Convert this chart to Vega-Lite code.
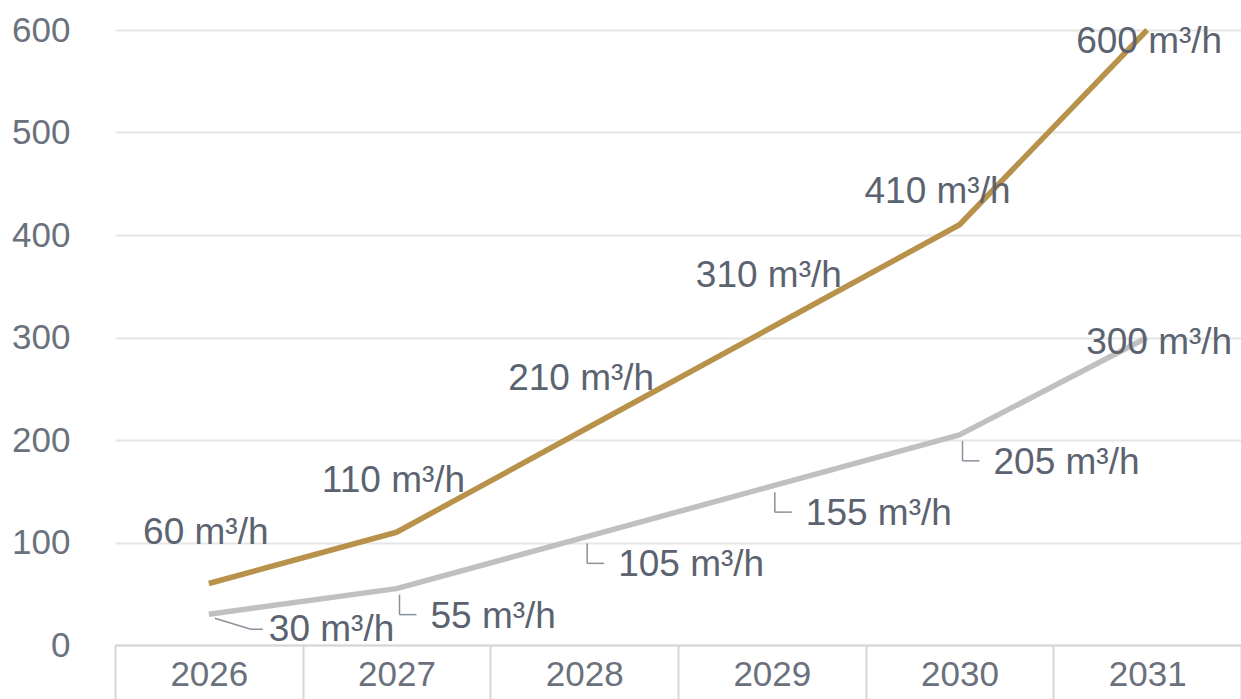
{
  "$schema": "https://vega.github.io/schema/vega-lite/v6.json",
  "width": 1126,
  "height": 615,
  "autosize": {"type": "none"},
  "padding": {"left": 115, "top": 30, "right": 0, "bottom": 54},
  "background": "white",
  "config": {
    "view": {"stroke": null},
    "font": "Liberation Sans, Arial",
    "text": {"font": "Liberation Sans, Arial", "fontSize": 37, "fill": "#5b6370", "baseline": "middle"}
  },
  "data": {
    "values": [
      {"year": "2026", "series": "Gold", "value": 60},
      {"year": "2027", "series": "Gold", "value": 110},
      {"year": "2028", "series": "Gold", "value": 210},
      {"year": "2029", "series": "Gold", "value": 310},
      {"year": "2030", "series": "Gold", "value": 410},
      {"year": "2031", "series": "Gold", "value": 600},
      {"year": "2026", "series": "Gray", "value": 30},
      {"year": "2027", "series": "Gray", "value": 55},
      {"year": "2028", "series": "Gray", "value": 105},
      {"year": "2029", "series": "Gray", "value": 155},
      {"year": "2030", "series": "Gray", "value": 205},
      {"year": "2031", "series": "Gray", "value": 300}
    ]
  },
  "transform": [{"calculate": "datum.value + ' m³/h'", "as": "label"}],
  "encoding": {
    "x": {
      "field": "year", "type": "ordinal", "title": null,
      "scale": {"paddingInner": 0, "paddingOuter": 0},
      "axis": {
        "tickBand": "extent", "tickSize": 54, "tickColor": "#d6d6d6", "tickWidth": 2,
        "domainColor": "#d6d6d6", "domainWidth": 2,
        "labelAngle": 0, "labelPadding": -42, "labelFontSize": 35,
        "labelFont": "Liberation Sans, Arial",
        "labelColor": "#6a717c", "labelBaseline": "top"
      }
    },
    "y": {
      "field": "value", "type": "quantitative", "title": null,
      "scale": {"domain": [0, 600], "nice": false},
      "axis": {
        "values": [0, 100, 200, 300, 400, 500, 600],
        "domain": false, "ticks": false, "labelPadding": 45,
        "labelFontSize": 35,
        "labelFont": "Liberation Sans, Arial",
        "labelColor": "#6a717c",
        "gridColor": "#e6e6e6", "gridWidth": 2
      }
    }
  },
  "layer": [
    {
      "mark": {"type": "line", "strokeWidth": 5.5, "interpolate": "linear", "strokeJoin": "round"},
      "encoding": {
        "color": {"field": "series", "type": "nominal", "legend": null,
          "scale": {"domain": ["Gold", "Gray"], "range": ["#b8914a", "#c0c0c0"]}}
      }
    },
    {
      "transform": [{"filter": "datum.series == 'Gray' && datum.year >= '2027' && datum.year <= '2030'"}],
      "mark": {"type": "rule", "color": "#8a9099", "strokeWidth": 1.5, "xOffset": 3, "yOffset": 6, "y2Offset": 26},
      "encoding": {"y2": {"field": "value"}}
    },
    {
      "transform": [{"filter": "datum.series == 'Gray' && datum.year >= '2027' && datum.year <= '2030'"}],
      "mark": {"type": "rule", "color": "#8a9099", "strokeWidth": 1.5, "xOffset": 3, "x2Offset": 20, "yOffset": 26, "y2Offset": 26},
      "encoding": {"x2": {"field": "year"}, "y2": {"field": "value"}}
    },
    {
      "transform": [{"filter": "datum.series == 'Gray' && datum.year == '2026'"}],
      "mark": {"type": "rule", "color": "#8a9099", "strokeWidth": 1.5, "xOffset": 6, "x2Offset": 42, "yOffset": 4, "y2Offset": 15},
      "encoding": {"x2": {"field": "year"}, "y2": {"field": "value"}}
    },
    {
      "transform": [{"filter": "datum.series == 'Gray' && datum.year == '2026'"}],
      "mark": {"type": "rule", "color": "#8a9099", "strokeWidth": 1.5, "xOffset": 42, "x2Offset": 54, "yOffset": 15, "y2Offset": 15},
      "encoding": {"x2": {"field": "year"}, "y2": {"field": "value"}}
    },
    {
      "transform": [{"filter": "datum.series == 'Gold' && datum.year <= '2029'"}],
      "mark": {"type": "text", "align": "center", "dx": -3, "dy": -51},
      "encoding": {"text": {"field": "label"}}
    },
    {
      "transform": [{"filter": "datum.series == 'Gold' && datum.year == '2030'"}],
      "mark": {"type": "text", "align": "center", "dx": -22, "dy": -33},
      "encoding": {"text": {"field": "label"}}
    },
    {
      "transform": [{"filter": "datum.series == 'Gold' && datum.year == '2031'"}],
      "mark": {"type": "text", "align": "center", "dx": 2, "dy": 12},
      "encoding": {"text": {"field": "label"}}
    },
    {
      "transform": [{"filter": "datum.series == 'Gray' && datum.year == '2026'"}],
      "mark": {"type": "text", "align": "left", "dx": 60, "dy": 16},
      "encoding": {"text": {"field": "label"}}
    },
    {
      "transform": [{"filter": "datum.series == 'Gray' && datum.year >= '2027' && datum.year <= '2030'"}],
      "mark": {"type": "text", "align": "left", "dx": 34, "dy": 28},
      "encoding": {"text": {"field": "label"}}
    },
    {
      "transform": [{"filter": "datum.series == 'Gray' && datum.year == '2031'"}],
      "mark": {"type": "text", "align": "center", "dx": 12, "dy": 5},
      "encoding": {"text": {"field": "label"}}
    }
  ]
}
